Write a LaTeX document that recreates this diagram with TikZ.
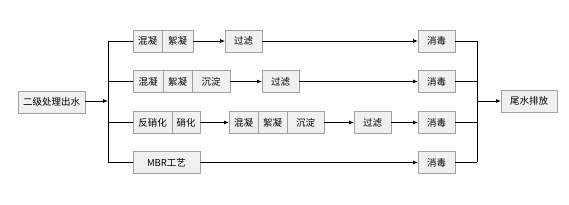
\documentclass[tikz,border=0pt]{standalone}
\usepackage{fontspec}
\newfontfamily\cjk{Noto Sans CJK SC}
\usetikzlibrary{arrows.meta,positioning,shadows}

\begin{document}
\begin{tikzpicture}[x=1pt,y=-1pt,
  box/.style={draw=gray!75,fill=gray!12,line width=0.7pt,minimum height=22pt,
    inner sep=0pt,outer sep=0pt,anchor=west,font=\cjk\fontsize{9.5}{9.5}\selectfont,
    drop shadow={shadow xshift=1pt,shadow yshift=-1pt,opacity=0.25}},
  flow/.style={-{Latex[length=5pt,width=4pt]},line width=0.8pt},
  wire/.style={line width=0.8pt}]
\useasboundingbox (0,0) rectangle (569,205);
% inlet and outlet
\node[box,minimum width=67pt] (inlet) at (18,102) {二级处理出水};
\node[box,minimum width=56pt] (outlet) at (501,101) {尾水排放};
\coordinate (L) at (108,101);
\coordinate (R) at (477,101);
% route 1
\node[box,minimum width=29pt] (a1) at (133,41) {混凝};
\node[box,minimum width=31pt,right=0pt of a1] (a2) {絮凝};
\node[box,minimum width=37pt] (a3) at (225,41) {过滤};
\node[box,minimum width=37pt] (d1) at (418,41) {消毒};
% route 2
\node[box,minimum width=30pt] (b1) at (133,81.5) {混凝};
\node[box,minimum width=29pt,right=0pt of b1] (b2) {絮凝};
\node[box,minimum width=38pt,right=0pt of b2] (b3) {沉淀};
\node[box,minimum width=37pt] (b4) at (262,81.5) {过滤};
\node[box,minimum width=37pt] (d2) at (418,81.5) {消毒};
% route 3
\node[box,minimum width=39pt] (c1) at (133,122.5) {反硝化};
\node[box,minimum width=28pt,right=0pt of c1] (c2) {硝化};
\node[box,minimum width=29pt] (c3) at (229,122.5) {混凝};
\node[box,minimum width=29pt,right=0pt of c3] (c4) {絮凝};
\node[box,minimum width=37pt,right=0pt of c4] (c5) {沉淀};
\node[box,minimum width=37pt] (c6) at (354,122.5) {过滤};
\node[box,minimum width=37pt] (d3) at (418,122.5) {消毒};
% route 4
\node[box,minimum width=67pt] (m1) at (133,162.5) {MBR工艺};
\node[box,minimum width=37pt] (d4) at (418,162.5) {消毒};

\draw[flow] (inlet.east |- L) -- (L);
\draw[wire] (a1.west -| L) -- (m1.west -| L);
\foreach \n in {a1,b1,c1,m1} \draw[wire] (\n.west -| L) -- (\n.west);
\draw[flow] (a2) -- (a3);
\draw[flow] (a3) -- (d1);
\draw[flow] (b3) -- (b4);
\draw[flow] (b4) -- (d2);
\draw[flow] (c2) -- (c3);
\draw[flow] (c5) -- (c6);
\draw[flow] (c6) -- (d3);
\draw[flow] (m1) -- (d4);
\foreach \n in {d1,d2,d3,d4} \draw[wire] (\n.east) -- (\n.east -| R);
\draw[wire] (d1.east -| R) -- (d4.east -| R);
\draw[flow] (R) -- (outlet);
\end{tikzpicture}
\end{document}
